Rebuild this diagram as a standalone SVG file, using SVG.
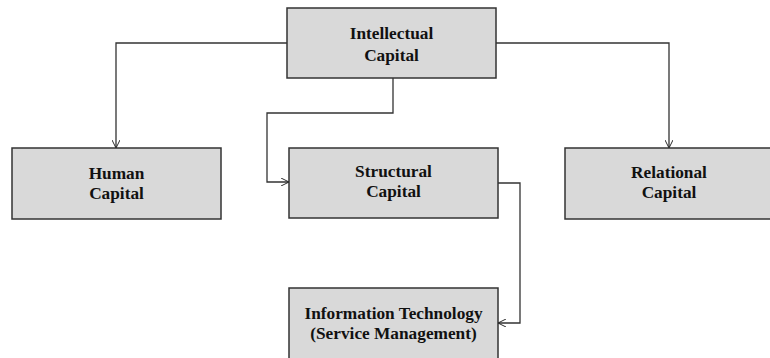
<svg xmlns="http://www.w3.org/2000/svg" width="770" height="358" viewBox="0 0 770 358">
<defs>
<marker id="arr" viewBox="0 0 10 10" refX="10" refY="5" markerWidth="8" markerHeight="8" markerUnits="userSpaceOnUse" orient="auto">
<path d="M0,0 L10,5 L0,10" fill="none" stroke="#222" stroke-width="1.2"/>
</marker>
<style>
.box{fill:#d9d9d9;stroke:#333;stroke-width:1.5}
.t{font-family:"Liberation Serif","Times New Roman",serif;font-weight:bold;font-size:17.3px;fill:#111;text-anchor:middle}
.c{fill:none;stroke:#333;stroke-width:1.3;marker-end:url(#arr)}
</style>
</defs>
<rect width="770" height="358" fill="#fff"/>
<g id="connectors">
<path class="c" d="M287,43 H116 V148"/>
<path class="c" d="M496,43 H669 V148"/>
<path class="c" d="M393,78 V113 H267 V182 H289"/>
<path class="c" d="M498,183 H520 V323 H498"/>
</g>
<g id="intellectual">
<rect class="box" x="287" y="8" width="209" height="70"/>
<text class="t" x="391.5" y="39">Intellectual</text>
<text class="t" x="391.5" y="61">Capital</text>
</g>
<g id="human">
<rect class="box" x="12" y="148" width="209" height="71"/>
<text class="t" x="116.5" y="179">Human</text>
<text class="t" x="116.5" y="199">Capital</text>
</g>
<g id="structural">
<rect class="box" x="289" y="148" width="209" height="70"/>
<text class="t" x="393.5" y="177">Structural</text>
<text class="t" x="393.5" y="197">Capital</text>
</g>
<g id="relational">
<rect class="box" x="565" y="148" width="209" height="71"/>
<text class="t" x="669" y="178">Relational</text>
<text class="t" x="669" y="198">Capital</text>
</g>
<g id="it">
<rect class="box" x="289" y="288" width="209" height="75"/>
<text class="t" x="393.5" y="319">Information Technology</text>
<text class="t" x="393.5" y="339">(Service Management)</text>
</g>
</svg>
